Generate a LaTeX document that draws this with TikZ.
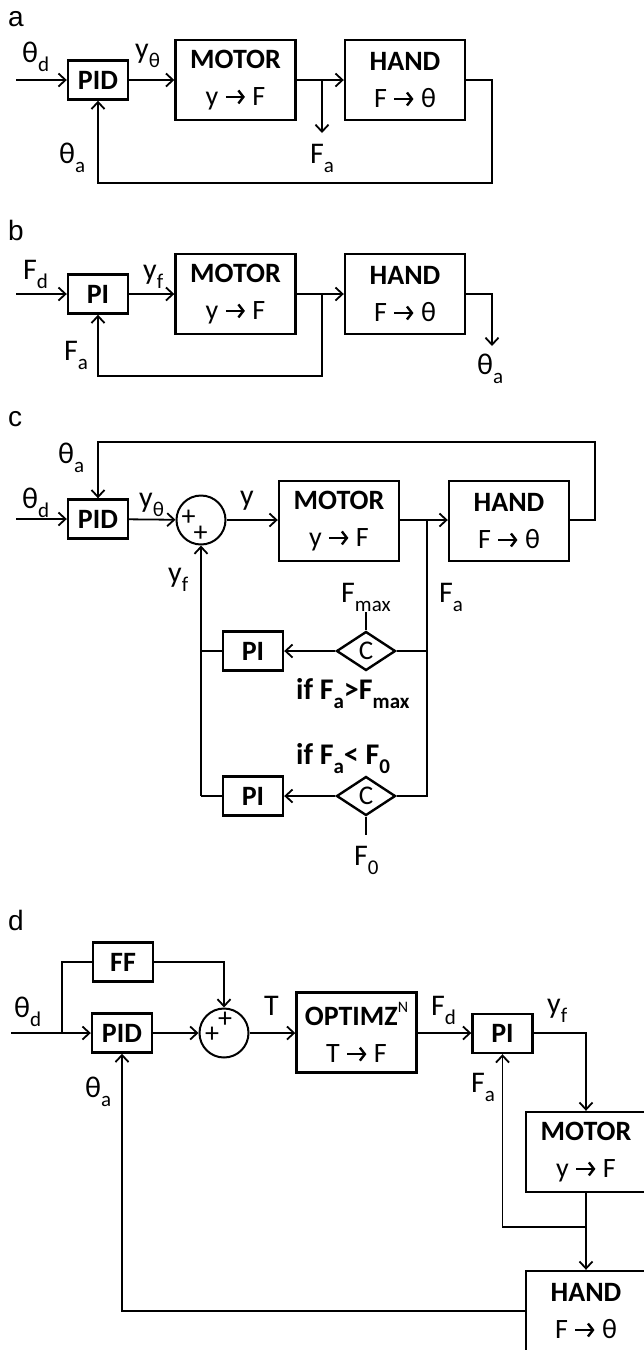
\documentclass[tikz,border=0pt]{standalone}
\usepackage{fontspec}
\setmainfont{Carlito}
\newfontfamily\panelfont{Liberation Sans}
\usetikzlibrary{arrows.meta,shapes.geometric}
\newcommand\lsb[1]{\raisebox{-9pt}{\fontsize{21}{21}\selectfont #1}}
\newcommand\lsp[1]{\raisebox{13pt}{\fontsize{16}{16}\mdseries\selectfont #1}}
\newcommand\rarr{\tikz[baseline=0pt]\draw[line width=2.4pt,-{Straight Barb[length=5pt,width=13pt]}] (0pt,8.5pt) -- (19pt,8.5pt);}
\tikzset{
 blk/.style={draw, line width=2.4pt, minimum width=120pt, minimum height=80pt, inner sep=0pt, align=center, font=\fontsize{28}{37}\selectfont},
 sblk/.style={draw, line width=2.4pt, minimum width=60pt, minimum height=39pt, inner sep=0pt, font=\bfseries\fontsize{28}{30}\selectfont},
 sumnode/.style={draw, circle, line width=2pt, minimum size=49pt, inner sep=0pt},
 cmp/.style={draw, diamond, line width=2.4pt, minimum width=59pt, minimum height=39pt, inner sep=0pt, font=\fontsize{27}{27}\selectfont},
 lbl/.style={anchor=base west, inner sep=0pt, font=\fontsize{30}{32}\selectfont},
 plbl/.style={anchor=base west, inner sep=0pt, font=\panelfont\fontsize{28}{30}\selectfont},
 pls/.style={inner sep=0pt, font=\fontsize{28}{28}\selectfont},
 con/.style={line width=1.8pt},
 arr/.style={con, -{Straight Barb[length=7pt,width=13pt]}},
}
\begin{document}
\begin{tikzpicture}[x=1pt,y=-1pt]
\useasboundingbox (0,0) rectangle (644,1350);
% ---------------- panel a
\node[plbl] (la) at (8,26) {a};
\node[sblk] (pidA) at (98,80) {PID};
\node[blk] (motA) at (235.5,80) {\textbf{MOTOR}\\y \rarr{} F};
\node[blk] (handA) at (405,80) {\textbf{HAND}\\F \rarr{} θ};
\coordinate (inA) at (16,80);
\coordinate (jA) at (322,80);
\coordinate (faA) at (322,133);
\coordinate (cA) at (492,80);
\coordinate (bA) at (492,183);
\draw[arr] (inA) -- (pidA);
\draw[arr] (pidA) -- (motA);
\draw[arr] (motA) -- (handA);
\draw[arr] (jA) -- (faA);
\draw[arr] (handA.east) -- (cA) -- (bA) -| (pidA.south);
\node[lbl] (tdA) at (22,62) {θ\lsb{d}};
\node[lbl] (ytA) at (135,58) {y\lsb{θ}};
\node[lbl] (taA) at (59,163) {θ\lsb{a}};
\node[lbl] (fA) at (310,163) {F\lsb{a}};
% ---------------- panel b
\node[plbl] (lb) at (8,240) {b};
\node[sblk] (piB) at (98,294) {PI};
\node[blk] (motB) at (235.5,294) {\textbf{MOTOR}\\y \rarr{} F};
\node[blk] (handB) at (405,294) {\textbf{HAND}\\F \rarr{} θ};
\coordinate (inB) at (16,294);
\coordinate (jB) at (322,294);
\coordinate (bB) at (322,376);
\coordinate (cB) at (492,294);
\coordinate (oB) at (492,346);
\draw[arr] (inB) -- (piB);
\draw[arr] (piB) -- (motB);
\draw[arr] (motB) -- (handB);
\draw[arr] (jB) -- (bB) -| (piB.south);
\draw[arr] (handB.east) -- (cB) -- (oB);
\node[lbl] (fdB) at (23,279) {F\lsb{d}};
\node[lbl] (yfB) at (143,279) {y\lsb{f}};
\node[lbl] (faB) at (64,360) {F\lsb{a}};
\node[lbl] (taB) at (477,374) {θ\lsb{a}};
% ---------------- panel c
\node[plbl] (lc) at (8,426) {c};
\node[sblk] (pidC) at (98,519) {PID};
\node[sumnode] (sumC) at (201,520) {};
\node[pls] (p1C) at (188.5,518) {+};
\node[pls] (p2C) at (200.5,534) {+};
\node[blk] (motC) at (339,521) {\textbf{MOTOR}\\y \rarr{} F};
\node[blk] (handC) at (509,521) {\textbf{HAND}\\F \rarr{} θ};
\node[cmp] (c1) at (366,651) {C};
\node[sblk] (pi1) at (253,651) {PI};
\node[cmp] (c2) at (366,796) {C};
\node[sblk] (pi2) at (253,796) {PI};
\coordinate (inC) at (16,519);
\coordinate (jC) at (427,520);
\coordinate (rC) at (595,520);
\coordinate (tC) at (595,442);
\coordinate (tl) at (98,442);
\coordinate (j1) at (427,651);
\coordinate (j2) at (427,796);
\coordinate (l1) at (201,651);
\coordinate (l2) at (201,796);
\coordinate (fmx) at (366,612);
\coordinate (f0) at (366,835);
\draw[arr] (inC) -- (pidC);
\draw[arr] (pidC) -- (sumC);
\draw[arr] (sumC) -- (motC.west |- sumC);
\draw[arr] (motC.east |- jC) -- (handC.west |- jC);
\draw[arr] (handC.east |- rC) -- (rC) -- (tC) -- (tl) -- (pidC.north);
\draw[con] (jC) -- (j2) -- (c2.east);
\draw[con] (j1) -- (c1.east);
\draw[arr] (c1.west) -- (pi1.east);
\draw[arr] (c2.west) -- (pi2.east);
\draw[con] (pi1.west) -- (l1);
\draw[con] (pi2.west) -- (l2);
\draw[arr] (l2) -- (sumC.south);
\draw[con] (fmx) -- (c1.north);
\draw[con] (c2.south) -- (f0);
\node[lbl] (taC) at (58,463) {θ\lsb{a}};
\node[lbl] (tdC) at (22,508) {θ\lsb{d}};
\node[lbl] (ytC) at (139,507) {y\lsb{θ}};
\node[lbl] (yC) at (240,505) {y};
\node[lbl] (yfC) at (168,582) {y\lsb{f}};
\node[lbl] (fmC) at (341,602) {F\lsb{max}};
\node[lbl] (faC) at (439,602) {F\lsb{a}};
\node[lbl] (if1) at (296,699) {\textbf{if F\lsb{a}>F\lsb{max}}};
\node[lbl] (if2) at (296,764) {\textbf{if F\lsb{a}< F\lsb{0}}};
\node[lbl] (f0C) at (354,865) {F\lsb{0}};
% ---------------- panel d
\node[plbl] (ld) at (8,930) {d};
\node[sblk] (ffD) at (123,962) {FF};
\node[sblk] (pidD) at (122,1033) {PID};
\node[sumnode] (sumD) at (224,1033) {};
\node[pls] (p1D) at (212,1035) {+};
\node[pls] (p2D) at (225,1020) {+};
\node[blk] (optD) at (356.5,1032.5) {\textbf{OPTIMZ}\lsp{N}\\T \rarr{} F};
\node[sblk] (piD) at (502.5,1033.5) {PI};
\node[blk] (motD) at (586,1152) {\textbf{MOTOR}\\y \rarr{} F};
\node[blk] (handD) at (586,1311) {\textbf{HAND}\\F \rarr{} θ};
\coordinate (inD) at (11,1033);
\coordinate (brD) at (62,1033);
\coordinate (brU) at (62,962);
\coordinate (ffR) at (224,962);
\coordinate (piR) at (586,1033);
\coordinate (jD) at (586,1227);
\coordinate (jL) at (502.5,1227);
\coordinate (hL) at (122,1311);
\draw[arr] (inD) -- (pidD);
\draw[con] (brD) -- (brU) -- (ffD.west);
\draw[arr] (ffD.east) -- (ffR) -- (sumD.north);
\draw[arr] (pidD) -- (sumD);
\draw[arr] (sumD) -- (optD.west |- sumD);
\draw[arr] (optD.east |- sumD) -- (piD.west |- sumD);
\draw[arr] (piD.east |- piR) -- (piR) -- (motD.north);
\draw[arr] (motD.south) -- (handD.north);
\draw[arr] (jD) -- (jL) -- (piD.south);
\draw[arr] (handD.west |- hL) -- (hL) -- (pidD.south);
\node[lbl] (tdD) at (14,1017) {θ\lsb{d}};
\node[lbl] (tD) at (264,1015) {T};
\node[lbl] (fdD) at (431,1015) {F\lsb{d}};
\node[lbl] (yfD) at (547,1013) {y\lsb{f}};
\node[lbl] (taD) at (85,1097) {θ\lsb{a}};
\node[lbl] (faD) at (471,1092) {F\lsb{a}};
\end{tikzpicture}
\end{document}
